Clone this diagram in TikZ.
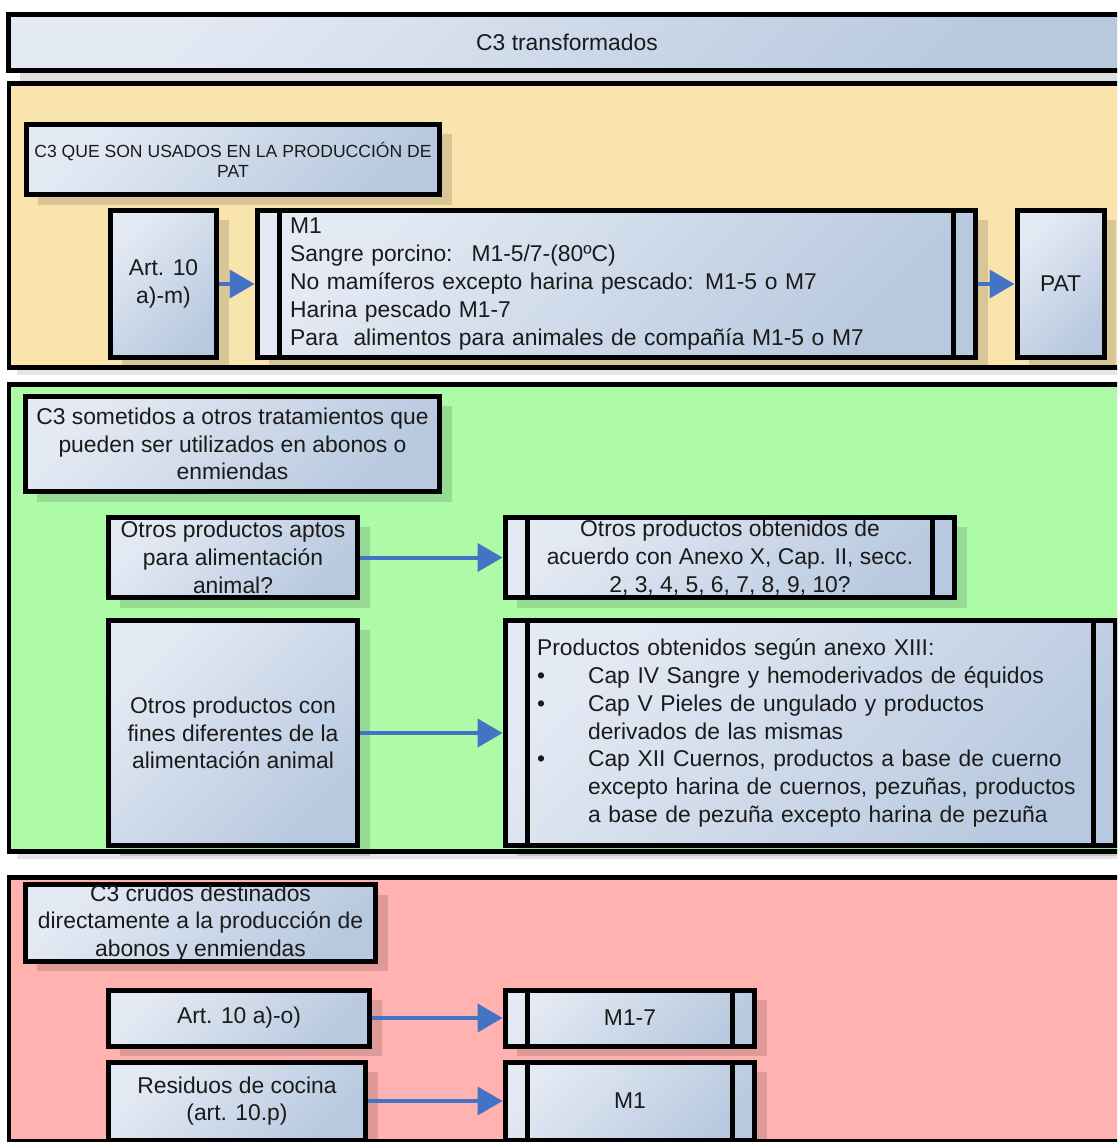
\documentclass[tikz,border=0pt]{standalone}
\usepackage{fontspec}
\setmainfont{Liberation Sans}
\usepackage{xcolor}
\usepackage{tikz}
\usetikzlibrary{arrows.meta,shadows}
\definecolor{ink}{HTML}{1A1A1A}
\definecolor{boxlt}{HTML}{E4EAF4}
\definecolor{boxdk}{HTML}{B8C9DF}
\definecolor{sand}{HTML}{FAE4AE}
\definecolor{mint}{HTML}{AEFBA7}
\definecolor{rose}{HTML}{FFB2B0}
\definecolor{flowblue}{HTML}{4472C4}
\newcommand\bulletmark{\makebox[1.02cm][l]{\textbullet}}
\newcommand\bulletskip{\hspace*{1.02cm}}
\tikzset{
  panel/.style={draw=black, line width=0.1cm, drop shadow={shadow xshift=0.16cm, shadow yshift=-0.16cm, opacity=0.1, fill=black}},
  box/.style={draw=black, line width=0.1cm, top color=boxlt, bottom color=boxdk, shading angle=45, text=ink, inner sep=0pt, align=center, font=\fontsize{13}{15.8}\selectfont, drop shadow={shadow xshift=0.24cm, shadow yshift=-0.2cm, opacity=0.13, fill=black}},
  small/.style={font=\fontsize{10}{11.5}\selectfont},
  bar/.style={draw=black, line width=0.1cm},
  flow/.style={draw=flowblue, line width=0.08cm, -{Triangle[length=5mm, width=5.6mm]}},
}

\begin{document}
\begin{tikzpicture}[x=0.02cm, y=-0.02cm]
  \useasboundingbox (0,0) rectangle (1117,1142);
  \clip (0,0) rectangle (1117,1142);
  \fill[white] (0,0) rectangle (1117,1142);
  \node[box, minimum width=22.36cm, minimum height=1.14cm] (title) at (567,42.5) {C3 transformados};
  \draw[panel, fill=sand] (9,84) rectangle (1135,367);
  \draw[panel, fill=mint] (9,384) rectangle (1135,851);
  \draw[panel, fill=rose] (9,877) rectangle (1135,1141);

  \node[box, small, minimum width=8.28cm, minimum height=1.42cm] (usados) at (233,159.5) {C3 QUE SON USADOS EN LA PRODUCCIÓN DE\\PAT};
  \node[box, minimum width=2.14cm, minimum height=2.96cm] (art1) at (163.5,284) {Art. 10\\a)-m)};
  \node[box, align=left, text width=13.06cm, minimum width=14.38cm, minimum height=2.96cm] (m1) at (616.5,284) {M1\\Sangre porcino: \ M1-5/7-(80ºC)\\No mamíferos excepto harina pescado: M1-5 o M7\\Harina pescado M1-7\\Para \ alimentos para animales de compañía M1-5 o M7};
  \node[box, minimum width=1.74cm, minimum height=2.96cm] (pat) at (1060.5,284) {PAT};

  \node[box, minimum width=8.3cm, minimum height=1.92cm] (sometidos) at (232.5,444) {C3 sometidos a otros tratamientos que\\pueden ser utilizados en abonos o\\enmiendas};
  \node[box, minimum width=5cm, minimum height=1.62cm] (aptos) at (233,557.5) {Otros productos aptos\\para alimentación\\animal?};
  \node[box, minimum width=9cm, minimum height=1.62cm] (anexox) at (730,557.5) {Otros productos obtenidos de\\acuerdo con Anexo X, Cap. II, secc.\\2, 3, 4, 5, 6, 7, 8, 9, 10?};
  \node[box, minimum width=5cm, minimum height=4.52cm] (fines) at (233,733) {Otros productos con\\fines diferentes de la\\alimentación animal};
  \node[box, align=left, text width=10.94cm, minimum width=12.22cm, minimum height=4.52cm] (anexoxiii) at (810.5,733) {Productos obtenidos según anexo XIII:\\
    \bulletmark Cap IV Sangre y hemoderivados de équidos\\
    \bulletmark Cap V Pieles de ungulado y productos\\
    \bulletskip derivados de las mismas\\
    \bulletmark Cap XII Cuernos, productos a base de cuerno\\
    \bulletskip excepto harina de cuernos, pezuñas, productos\\
    \bulletskip a base de pezuña excepto harina de pezuña};

  \node[box, minimum width=7.02cm, minimum height=1.48cm] (crudos) at (200.5,923) {C3 crudos destinados\\directamente a la producción de\\abonos y enmiendas};
  \node[box, minimum width=5.24cm, minimum height=1.12cm] (art3) at (239,1018) {Art. 10 a)-o)};
  \node[box, minimum width=5cm, minimum height=1.12cm] (m17) at (630,1018) {M1-7};
  \node[box, minimum width=5.16cm, minimum height=1.56cm] (cocina) at (237,1101) {Residuos de cocina\\(art. 10.p)};
  \node[box, minimum width=5cm, minimum height=1.56cm] (m1b) at (630,1101) {M1};

  \draw[bar] ([xshift=0.5cm]m1.north west) -- ([xshift=0.5cm]m1.south west) ([xshift=-0.5cm]m1.north east) -- ([xshift=-0.5cm]m1.south east);
  \draw[bar] ([xshift=0.5cm]anexox.north west) -- ([xshift=0.5cm]anexox.south west) ([xshift=-0.5cm]anexox.north east) -- ([xshift=-0.5cm]anexox.south east);
  \draw[bar] ([xshift=0.5cm]anexoxiii.north west) -- ([xshift=0.5cm]anexoxiii.south west) ([xshift=-0.5cm]anexoxiii.north east) -- ([xshift=-0.5cm]anexoxiii.south east);
  \draw[bar] ([xshift=0.5cm]m17.north west) -- ([xshift=0.5cm]m17.south west) ([xshift=-0.5cm]m17.north east) -- ([xshift=-0.5cm]m17.south east);
  \draw[bar] ([xshift=0.5cm]m1b.north west) -- ([xshift=0.5cm]m1b.south west) ([xshift=-0.5cm]m1b.north east) -- ([xshift=-0.5cm]m1b.south east);

  \draw[flow] (art1) -- (m1);
  \draw[flow] (m1) -- (pat);
  \draw[flow] (aptos) -- (anexox);
  \draw[flow] (fines) -- (anexoxiii);
  \draw[flow] (art3) -- (m17);
  \draw[flow] (cocina) -- (m1b);
\end{tikzpicture}
\end{document}
